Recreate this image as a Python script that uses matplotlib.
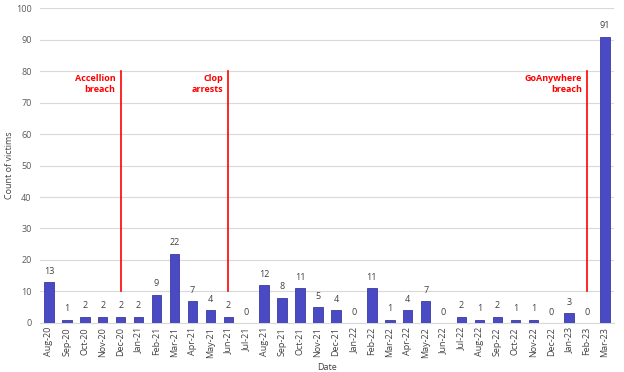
import matplotlib
matplotlib.use("Agg")
import matplotlib.pyplot as plt
import numpy as np

# Data
months = ["Aug-20", "Sep-20", "Oct-20", "Nov-20", "Dec-20", "Jan-21", "Feb-21", "Mar-21",
          "Apr-21", "May-21", "Jun-21", "Jul-21", "Aug-21", "Sep-21", "Oct-21", "Nov-21",
          "Dec-21", "Jan-22", "Feb-22", "Mar-22", "Apr-22", "May-22", "Jun-22", "Jul-22",
          "Aug-22", "Sep-22", "Oct-22", "Nov-22", "Dec-22", "Jan-23", "Feb-23", "Mar-23"]
victims = [13, 1, 2, 2, 2, 2, 9, 22, 7, 4, 2, 0, 12, 8, 11, 5,
           4, 0, 11, 1, 4, 7, 0, 2, 1, 2, 1, 1, 0, 3, 0, 91]

events = ["Accellion\nbreach", "Clop\narrests", "GoAnywhere\nbreach"]
event_months = ["Dec-20", "Jun-21", "Feb-23"]

plt.rcParams['font.family'] = ['Open Sans', 'DejaVu Sans']

fig = plt.figure(figsize=(6.24, 3.72), dpi=100)
ax = fig.add_axes([0.064, 0.132, 0.92, 0.846])

x = np.arange(len(months))
ax.bar(x, victims, width=0.53, color="#4a4ac4", edgecolor="#3a3aa0", linewidth=0.6, zorder=3)

for xi, v in zip(x, victims):
    ax.text(xi, v + 2, str(v), ha="center", va="bottom", fontsize=6.5, color="#404040")

# Event markers
for label, m in zip(events, event_months):
    xi = months.index(m)
    ax.plot([xi, xi], [10, 80], color="red", linewidth=1.2, zorder=4)
    ax.text(xi - 0.3, 79, label, ha="right", va="top", fontsize=6.5,
            fontweight="bold", color="red", linespacing=1.2)

ax.set_xlim(-0.5, len(months) - 0.5)
ax.set_ylim(0, 100)
ax.set_yticks(np.arange(0, 101, 10))
ax.set_xticks(x)
ax.set_xticklabels(months, rotation=90, fontsize=6.5, color="#404040")
ax.tick_params(axis="y", labelsize=6.5, labelcolor="#595959", length=0, pad=6)
ax.tick_params(axis="x", length=0, pad=3)
ax.grid(axis="y", color="#d9d9d9", linewidth=0.8, zorder=0)
for s in ["top", "right", "left"]:
    ax.spines[s].set_visible(False)
ax.spines["bottom"].set_color("#d9d9d9")

ax.set_xlabel("Date", fontsize=6.5, color="#404040", labelpad=4)
ax.set_ylabel("Count of victims", fontsize=6.5, color="#404040", labelpad=1)

fig.savefig("out.png", dpi=100)
